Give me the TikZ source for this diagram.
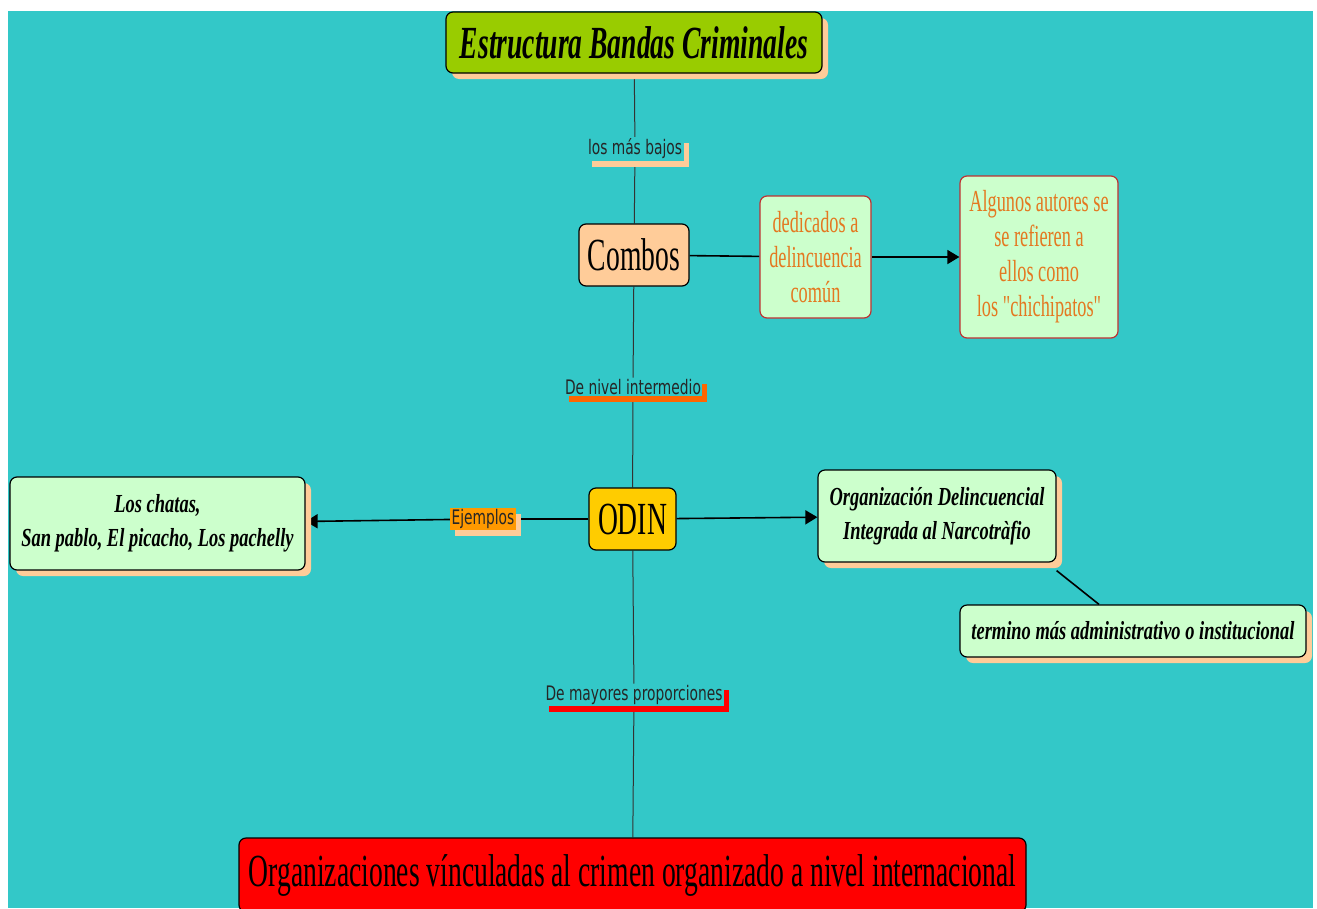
\documentclass[tikz,border=0pt]{standalone}
\usepackage{fontspec}
\setmainfont{Liberation Serif}
\newfontfamily\cserif[FakeStretch=0.6]{Liberation Serif}
\newfontfamily\cbiserif[FakeStretch=0.71]{Liberation Serif}
\newfontfamily\csans[FakeStretch=0.69]{DejaVu Sans}
\usetikzlibrary{arrows.meta,shadows,calc}
\definecolor{bgteal}{RGB}{51,200,200}
\definecolor{titlegreen}{RGB}{153,204,0}
\definecolor{peach}{RGB}{255,204,153}
\definecolor{odingold}{RGB}{255,204,0}
\definecolor{lightgreen}{RGB}{204,255,204}
\definecolor{orangelbl}{RGB}{255,153,0}
\definecolor{orangebar}{RGB}{255,102,0}
\definecolor{redbar}{RGB}{255,0,0}
\definecolor{textorange}{RGB}{228,120,32}
\definecolor{brdred}{RGB}{190,50,50}
\pgfdeclarelayer{bg}
\pgfdeclarelayer{edges}
\pgfsetlayers{bg,edges,main}
\tikzset{
  box/.style={draw=black, line width=1.2pt, rounded corners=7pt, align=center, inner sep=0pt},
  shad/.style={general shadow={shadow xshift=6pt, shadow yshift=-6pt, fill=peach, draw=none}},
  gbox/.style={draw=brdred, line width=1.2pt, rounded corners=7pt, align=center, inner sep=0pt,
    fill=lightgreen, text=textorange, font=\cserif\fontsize{30.5}{35}\selectfont},
  bibox/.style={box, shad, fill=lightgreen, font=\cbiserif\bfseries\itshape\fontsize{26}{34}\selectfont},
  lbl/.style={fill=bgteal, inner sep=1.5pt, font=\csans\fontsize{20}{24}\selectfont, text=black!85,
    general shadow={shadow xshift=5pt, shadow yshift=-6pt, fill=#1, draw=none}},
  vline/.style={draw=black!80, line width=1pt},
  hline/.style={draw=black, line width=1.6pt},
  arr/.style={-{Triangle[length=12pt,width=14pt]}}
}
\begin{document}
\begin{tikzpicture}[x=1pt,y=-1pt]
\useasboundingbox (0,0) rectangle (1317,908);
\begin{pgfonlayer}{bg}
\fill[white] (0,0) rectangle (1317,908);
\fill[bgteal] (8,11) rectangle (1313,908);
\end{pgfonlayer}

\node[box, shad, fill=titlegreen, minimum width=376pt, minimum height=61pt,
  font=\cserif\bfseries\itshape\fontsize{46}{50}\selectfont] (title) at (634,42.5) {Estructura Bandas Criminales};
\node[lbl=peach] (l1) at (635,149) {los más bajos};
\node[box, fill=peach, minimum width=110pt, minimum height=62pt,
  font=\cserif\fontsize{46}{50}\selectfont] (combos) at (634,255) {Combos};
\node[gbox, minimum width=111pt, minimum height=122pt] (dedic) at (815.5,257) {dedicados a\\delincuencia\\común};
\node[gbox, minimum width=158pt, minimum height=162pt] (algunos) at (1039,257) {Algunos autores se\\se refieren a\\ellos como\\los "chichipatos"};
\node[lbl=orangebar] (l2) at (633,387) {De nivel intermedio};
\node[box, fill=odingold, minimum width=87pt, minimum height=62pt,
  font=\cserif\fontsize{46}{50}\selectfont] (odin) at (632.5,519) {ODIN};
\node[fill=orangelbl, inner sep=1.5pt, font=\csans\fontsize{20}{24}\selectfont, text=black!85,
  general shadow={shadow xshift=5pt, shadow yshift=-6pt, fill=peach, draw=none}] (ej) at (483,519) {Ejemplos};
\node[bibox, minimum width=295pt, minimum height=93pt] (left) at (157.5,523.5) {Los chatas,\\San pablo, El picacho, Los pachelly};
\node[bibox, minimum width=238pt, minimum height=92pt] (org) at (937,516) {Organización Delincuencial\\Integrada al Narcotràfio};
\node[bibox, minimum width=346pt, minimum height=52pt] (term) at (1133,631) {termino más administrativo o institucional};
\node[lbl=redbar] (l3) at (634,695) {De mayores proporciones};
\begin{scope}
\clip (0,0) rectangle (1317,908);
\node[box, fill=red, minimum width=787pt, minimum height=74pt,
  font=\cserif\fontsize{46}{50}\selectfont] (bottom) at (632.5,875) {Organizaciones vínculadas al crimen organizado a nivel internacional};
\end{scope}

\begin{pgfonlayer}{edges}
\draw[vline] (title) -- (l1) -- (combos) -- (l2) -- (odin) -- (l3) -- (bottom);
\draw[hline] (combos) -- (dedic);
\draw[hline, arr] (dedic) -- (algunos);
\draw[hline, arr] (odin) -- (org);
\draw[hline] (odin) -- (ej);
\draw[hline, arr] (ej) -- (left);
\draw[hline] ([yshift=-8pt]org.south east) -- ([xshift=-34pt]term.north);
\end{pgfonlayer}
\end{tikzpicture}
\end{document}
